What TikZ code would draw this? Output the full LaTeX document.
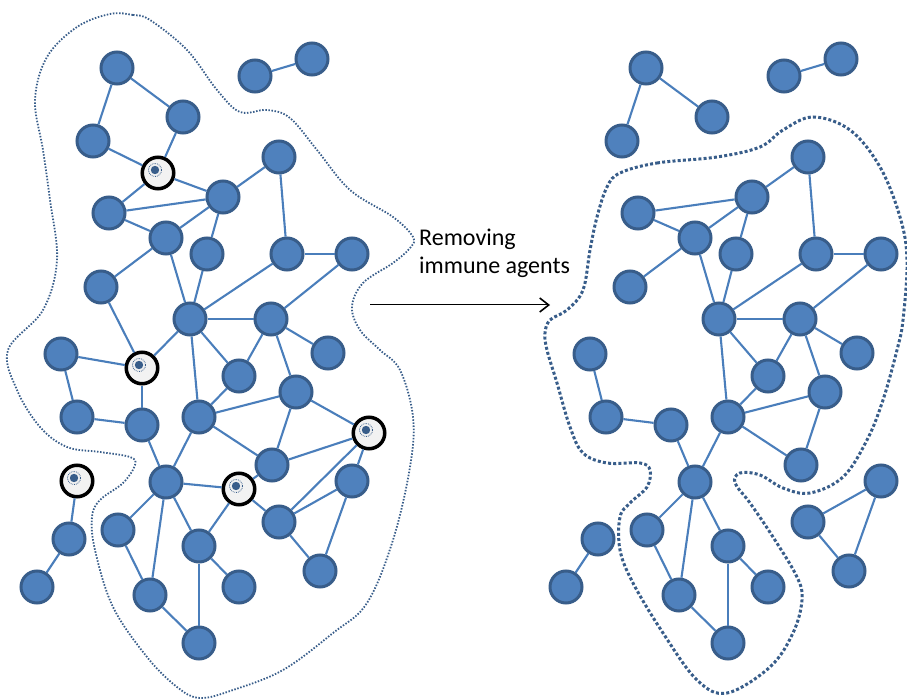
\documentclass[tikz,border=0pt]{standalone}
\usepackage{fontspec}
\setmainfont{Carlito}
\usetikzlibrary{arrows.meta}
\definecolor{iafill}{HTML}{4F81BD}
\definecolor{iaedge}{HTML}{385D8A}
\definecolor{ialink}{HTML}{4A7EBB}
\definecolor{iapale}{HTML}{F2F2F2}
\tikzset{
  ia agent/.style={circle, draw=iaedge, fill=iafill, line width=3pt,
    minimum size=32pt, inner sep=0pt},
  ia immune/.style={circle, draw=black, fill=iapale, line width=3.5pt,
    minimum size=31.5pt, inner sep=0pt},
  ia link/.style={draw=ialink, line width=2.1pt},
  ia thin boundary/.style={draw=iaedge, line width=1.8pt, dash pattern=on 1.5pt off 1.6pt},
  ia thick boundary/.style={draw=iaedge, line width=3pt, dash pattern=on 3pt off 2.2pt},
  ia arrow/.style={-{Straight Barb[length=9pt,width=14pt,line width=1.6pt]}, line width=1pt, draw=black},
  ia label/.style={font=\fontsize{24}{28}\selectfont, align=left, inner sep=0pt}
}

\begin{document}
\begin{tikzpicture}[x=1pt, y=-1pt]
  \useasboundingbox (0,0) rectangle (907,700);
  % boundaries of the infected group
  \draw[ia thin boundary] plot[smooth cycle, tension=0.6] coordinates {
    (110,14) (133,15) (150,20) (187,50) (217,90) (240,112) (267,110) (290,118)
    (317,150) (350,190) (393,217) (413,237) (410,248) (393,263) (363,283)
    (352,307) (360,330) (380,350) (400,370) (413,417) (410,467) (393,540)
    (367,603) (333,633) (283,670) (233,690) (200,698) (177,687) (147,657)
    (113,607) (95,550) (92,517) (100,500) (123,483) (135,465) (130,457)
    (100,452) (67,447) (40,427) (17,390) (8,350) (43,310) (57,260) (50,200)
    (43,150) (35,100) (47,57) (77,27)};
  \draw[ia thick boundary] plot[smooth cycle, tension=0.6] coordinates {
    (620,173) (657,163) (717,157) (760,147) (783,130) (813,117) (850,130)
    (880,167) (900,217) (907,260) (903,320) (897,350) (883,400) (867,440)
    (843,477) (810,493) (783,488) (760,475) (740,473) (735,483) (750,503)
    (773,537) (797,577) (802,600) (793,633) (770,667) (727,693) (697,680)
    (663,633) (633,583) (620,550) (620,517) (630,503) (647,487) (650,470)
    (640,463) (607,463) (583,453) (570,427) (557,383) (547,350) (545,333)
    (550,320) (567,310) (583,290) (590,250) (597,217) (607,187)};
  % network before (l) and after (r) the removal
  \foreach \p/\dx in {l/0, r/529} {
    \begin{scope}[xshift=\dx pt]
      \foreach \n/\x/\y in {1/117/68, 2/183/117, 3/93/141, 4/279/157, 5/223/197,
          6/109/213, 7/166/238, 8/207/254, 9/287/254, 10/352/254, 11/101/287,
          12/190/319, 13/271/319, 14/328/353, 15/61/354, 16/239/376, 17/77/417,
          18/142/425, 19/199/417, 20/296/392, 21/272/465, 22/166/482, 23/352/481,
          24/118/530, 25/279/522, 26/69/539, 27/199/546, 28/37/587, 29/150/595,
          30/239/587, 31/320/571, 32/199/643, 33/255/76, 34/312/59}
        \node[ia agent] (\p\n) at (\x,\y) {};
      \foreach \a/\b in {1/3, 1/2, 5/6, 5/4, 5/7, 5/8, 6/7, 7/11, 7/12, 8/12,
          4/9, 9/10, 9/12, 10/13, 12/13, 13/14, 12/19, 12/16, 13/16, 13/20,
          15/17, 17/18, 18/22, 16/19, 19/20, 19/21, 19/22, 20/21, 23/25, 23/31,
          25/31, 22/24, 22/29, 22/27, 24/29, 29/32, 27/32, 27/30, 26/28, 33/34}
        \draw[ia link] (\p\a) -- (\p\b);
    \end{scope}
  }
  % immune agents
  \foreach \n/\x/\y in {1/158/173, 2/142/368, 3/369/433, 4/239/489, 5/77/481}
    \node[ia immune] (i\n) at (\x,\y) {};
  \foreach \a/\b in {i1/l2, i1/l3, i1/l5, i1/l6, i2/l11, i2/l12, i2/l15, i2/l18,
      i3/l20, i3/l21, i3/l23, i3/l25, i4/l21, i4/l22, i4/l27, i4/l25, i5/l26}
    \draw[ia link] (\a) -- (\b);
  \foreach \n in {1,...,5} {
    \fill[iaedge] ([shift={(-3,-3)}]i\n.center) circle (4.2pt);
    \draw[iaedge, line width=0.8pt, densely dotted] ([shift={(-3,-3)}]i\n.center) circle (6.5pt);
  }
  % removal step
  \node[ia label, anchor=north west] (removing) at (419,229) {Removing\\immune agents};
  \coordinate (from) at (370,305);
  \coordinate (to) at (550,305);
  \draw[ia arrow] (from) -- (to);
\end{tikzpicture}
\end{document}
